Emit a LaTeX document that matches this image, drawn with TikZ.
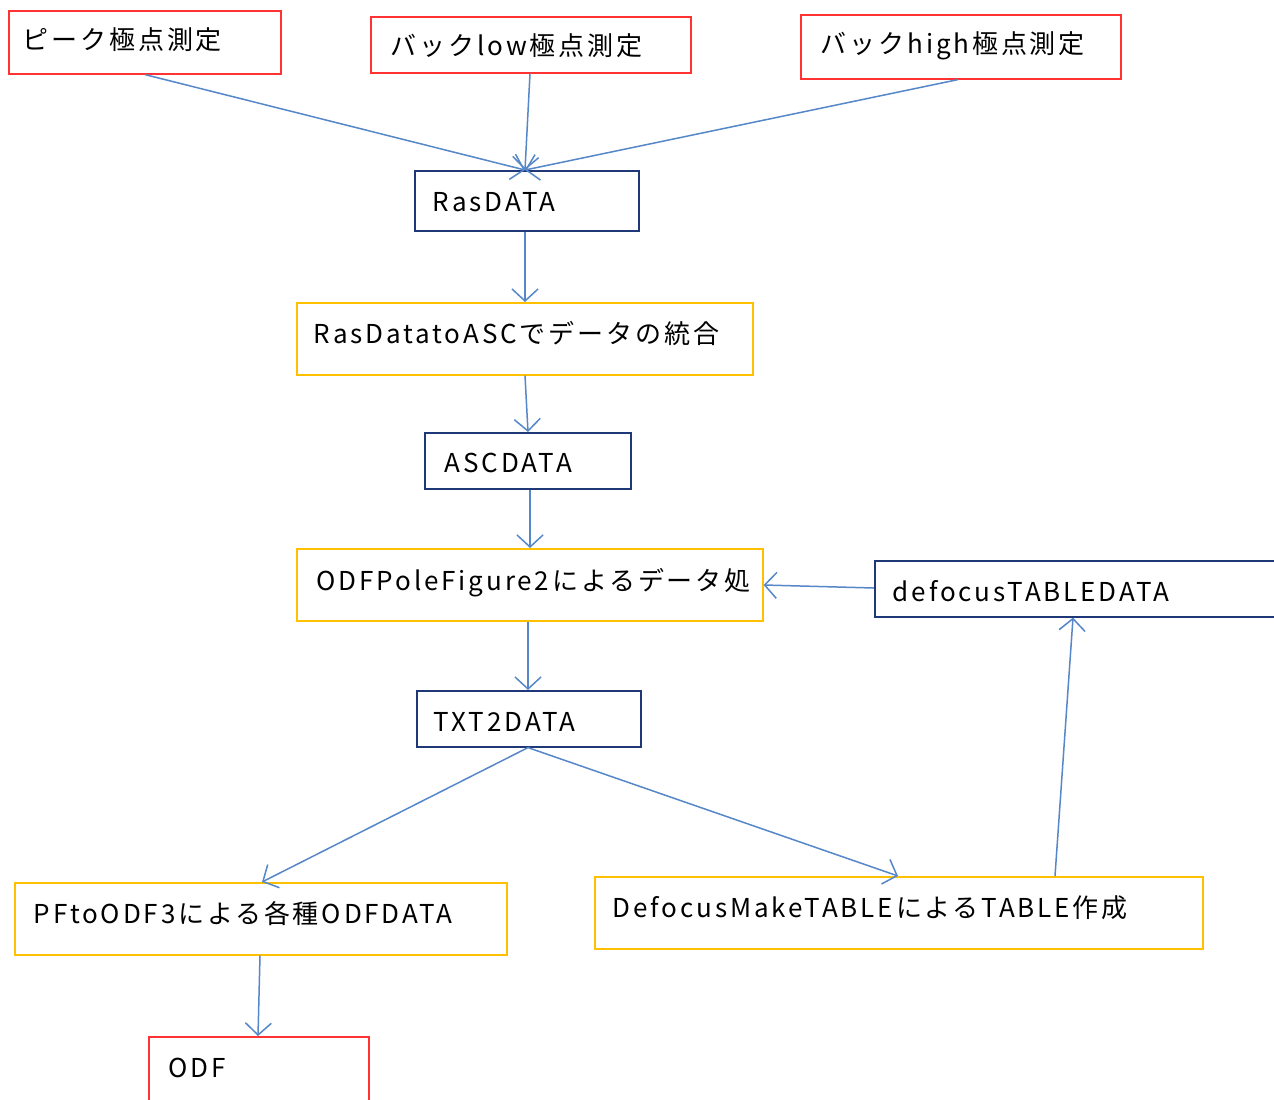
\documentclass[tikz,border=0pt]{standalone}
\usepackage{fontspec}
\setmainfont{Noto Sans CJK JP}[LetterSpace=11]
\usetikzlibrary{arrows.meta,calc}
\definecolor{boxred}{RGB}{255,51,51}
\definecolor{boxnavy}{RGB}{31,56,120}
\definecolor{boxgold}{RGB}{255,192,0}
\definecolor{arrowblue}{RGB}{86,135,200}
\tikzset{
  box/.style={draw, line width=1.6pt, anchor=north west, inner ysep=0pt, align=left,
    font=\fontsize{26}{30}\selectfont},
  redbox/.style={box, draw=boxred},
  navybox/.style={box, draw=boxnavy},
  goldbox/.style={box, draw=boxgold},
  conn/.style={draw=arrowblue, line width=1.5pt,
    -{Straight Barb[length=12pt,width=26pt,line width=1.5pt]}},
}
\begin{document}
\begin{tikzpicture}[x=1pt,y=-1pt]
\useasboundingbox (0,0) rectangle (1274,1100);
\fill[white] (0,0) rectangle (1274,1100);

\node[redbox, text width=244pt, inner xsep=14pt, text height=39pt, text depth=24pt] (peak) at (8,10) {ピーク極点測定};
\node[redbox, text width=280pt, inner xsep=20pt, text height=39pt, text depth=17pt] (low) at (370,16) {バックlow極点測定};
\node[redbox, text width=280pt, inner xsep=20pt, text height=39pt, text depth=25pt] (high) at (800,14) {バックhigh極点測定};
\node[navybox, text width=188pt, inner xsep=18pt, text height=41pt, text depth=19pt] (ras) at (414,170) {RasDATA};
\node[goldbox, text width=422pt, inner xsep=17pt, text height=41pt, text depth=31pt] (merge) at (296,302) {RasDatatoASCでデータの統合};
\node[navybox, text width=166pt, inner xsep=20pt, text height=40pt, text depth=16pt] (asc) at (424,432) {ASCDATA};
\node[goldbox, text width=426pt, inner xsep=20pt, text height=42pt, text depth=30pt] (pole) at (296,548) {ODFPoleFigure2によるデータ処};
\node[navybox, text width=364pt, inner xsep=18pt, text height=41pt, text depth=15pt] (defocus) at (874,560) {defocusTABLEDATA};
\node[navybox, text width=190pt, inner xsep=17pt, text height=41pt, text depth=15pt] (txt) at (416,690) {TXT2DATA};
\node[goldbox, text width=454pt, inner xsep=19pt, text height=41pt, text depth=31pt] (pf) at (14,882) {PFtoODF3による各種ODFDATA};
\node[goldbox, text width=572pt, inner xsep=18pt, text height=41pt, text depth=31pt] (make) at (594,876) {DefocusMakeTABLEによるTABLE作成};
\node[redbox, text width=180pt, inner xsep=20pt, text height=41pt, text depth=39pt] (odf) at (148,1036) {ODF};

\draw[conn] ($(peak.south west)+(137,0)$) -- ($(ras.north west)+(111,0)$);
\draw[conn] ($(low.south west)+(160,0)$) -- ($(ras.north west)+(111,0)$);
\draw[conn] ($(high.south west)+(158,0)$) -- ($(ras.north west)+(111,0)$);
\draw[conn] ($(ras.south west)+(111,0)$) -- ($(merge.north west)+(229,0)$);
\draw[conn] ($(merge.south west)+(229,0)$) -- ($(asc.north west)+(104,0)$);
\draw[conn] ($(asc.south west)+(106,0)$) -- ($(pole.north west)+(234,0)$);
\draw[conn] ($(defocus.north west)+(0,28)$) -- ($(pole.north east)+(0,37)$);
\draw[conn] ($(pole.south west)+(232,0)$) -- ($(txt.north west)+(112,0)$);
\draw[conn] ($(txt.south west)+(112,0)$) -- ($(pf.north west)+(248,0)$);
\draw[conn] ($(txt.south west)+(112,0)$) -- ($(make.north west)+(304,0)$);
\draw[conn] ($(make.north west)+(461,0)$) -- ($(defocus.south west)+(199,0)$);
\draw[conn] ($(pf.south west)+(246,0)$) -- ($(odf.north west)+(110,0)$);
\end{tikzpicture}
\end{document}
